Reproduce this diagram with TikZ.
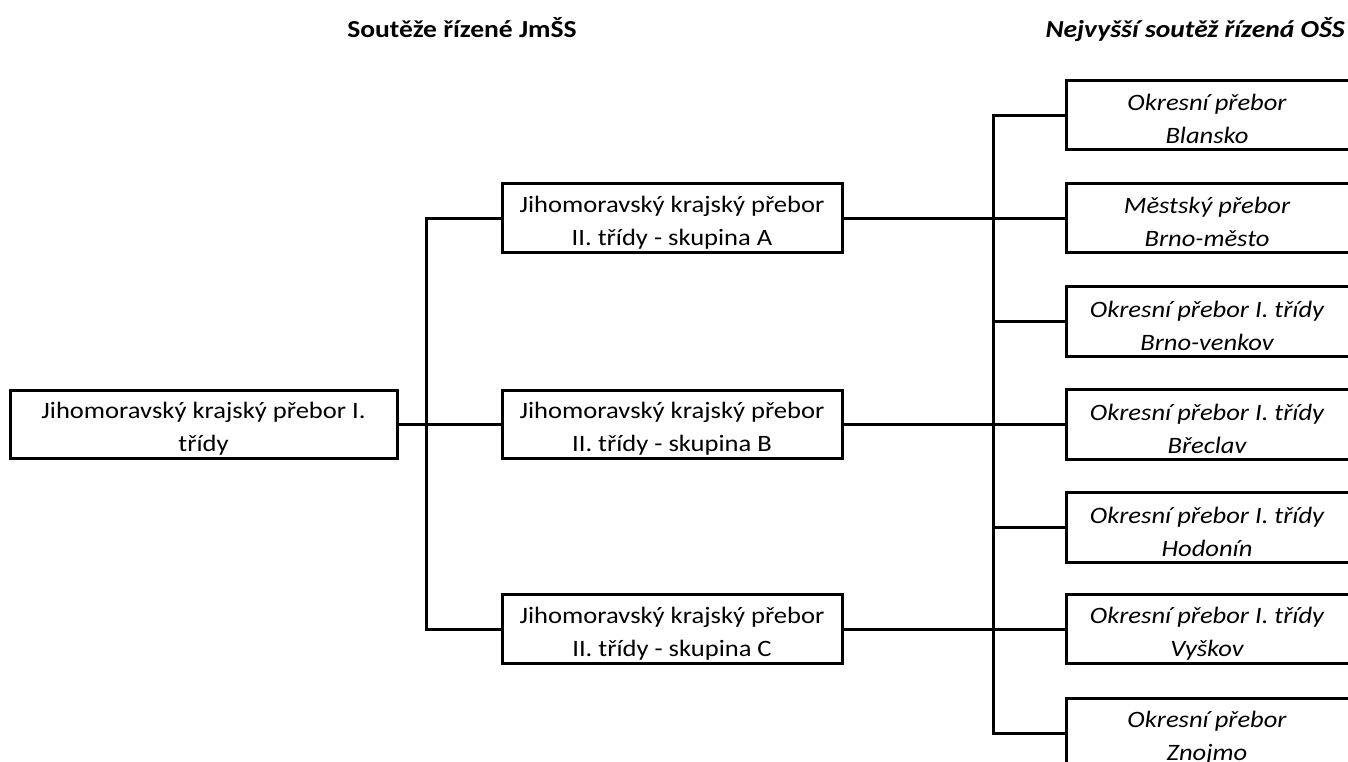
\documentclass[tikz,border=0pt]{standalone}
\usepackage{fontspec}
\setmainfont{Carlito}[FakeStretch=1.13]
\newcommand\lft{\rule{0pt}{25pt}}
\begin{document}
\begin{tikzpicture}[x=1pt,y=-1pt,
  every node/.style={font=\fontsize{23.5}{33}\selectfont},
  lbox/.style={draw, line width=3pt, inner sep=0pt, minimum width=340pt, minimum height=68.5pt, align=center},
  rtext/.style={inner sep=0pt, minimum width=266pt, minimum height=69pt, align=center, font=\fontsize{23.5}{33}\selectfont\itshape},
  conn/.style={line width=3pt},
  title/.style={font=\fontsize{24.4}{33}\selectfont\bfseries, inner sep=0pt}]
\useasboundingbox (0,0) rectangle (1348,761);
\clip (0,0) rectangle (1348,761);
% titles
\node[title, anchor=base] (t1) at (462,37) {Soutěže řízené JmŠS};
\node[title, anchor=base east] (t2) at (1345,37) {\itshape Nejvyšší soutěž řízená OŠS};
% left boxes
\node[lbox, minimum width=387pt] (root) at (203.5,424.5) {\lft Jihomoravský krajský přebor I.\\třídy};
\node[lbox] (A) at (672,218) {\lft Jihomoravský krajský přebor\\II. třídy - skupina A};
\node[lbox] (B) at (672,424.5) {\lft Jihomoravský krajský přebor\\II. třídy - skupina B};
\node[lbox] (C) at (672,629) {\lft Jihomoravský krajský přebor\\II. třídy - skupina C};
% right boxes (text centre at x=1207, box from x=1067 past the right edge)
\node[rtext, minimum width=280pt] (r1) at (1207,115) {\lft Okresní přebor\\Blansko};
\node[rtext, minimum width=280pt] (r2) at (1207,218) {\lft Městský přebor\\Brno-město};
\node[rtext, minimum width=280pt] (r3) at (1207,321.5) {\lft Okresní přebor I. třídy\\Brno-venkov};
\node[rtext, minimum width=280pt] (r4) at (1207,424.5) {\lft Okresní přebor I. třídy\\Břeclav};
\node[rtext, minimum width=280pt] (r5) at (1207,527.5) {\lft Okresní přebor I. třídy\\Hodonín};
\node[rtext, minimum width=280pt] (r6) at (1207,629) {\lft Okresní přebor I. třídy\\Vyškov};
\node[rtext, minimum width=280pt] (r7) at (1207,733.5) {\lft Okresní přebor\\Znojmo};
\foreach \r in {r1,r2,r3,r4,r5,r6,r7}{
  \draw[conn] (\r.south west) rectangle ([xshift=40pt]\r.north east);
}
% connectors left
\coordinate (j1) at (426,218);
\draw[conn] (root.east) -- (B.west);
\draw[conn] (A.west) -- (j1) |- (C.west);
% connectors right
\coordinate (j2) at (993,115);
\draw[conn] (A.east) -- (r2.west);
\draw[conn] (B.east) -- (r4.west);
\draw[conn] (C.east) -- (r6.west);
\draw[conn] (r1.west) -- (j2) |- (r7.west);
\draw[conn] (j2|-r3.west) -- (r3.west);
\draw[conn] (j2|-r5.west) -- (r5.west);
\end{tikzpicture}
\end{document}
